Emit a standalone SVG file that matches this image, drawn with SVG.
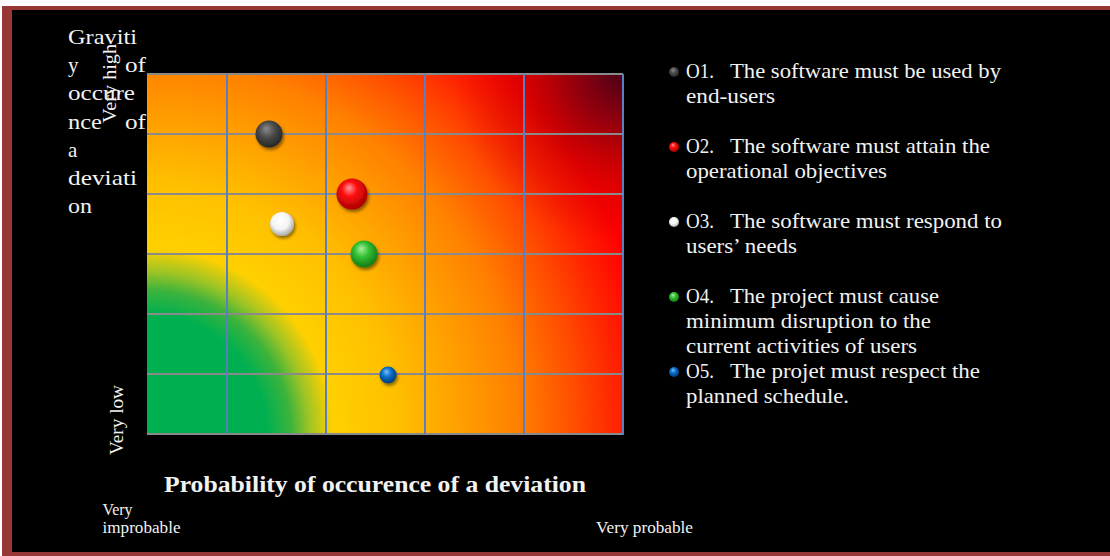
<svg xmlns="http://www.w3.org/2000/svg" width="1110" height="556" viewBox="0 0 1110 556">
  <style>
    .txt { font-family: "Liberation Serif", "DejaVu Serif", serif; fill: #f2f2f2; }
    .leg { font-size: 21.5px; }
    .axis { font-size: 21px; }
    .small { font-size: 17px; }
    .hgrid { stroke: #8a8a8a; stroke-width: 2; }
    .vgrid { stroke: #5a7fbf; stroke-width: 2; }
  </style>
  <defs>
    <!-- risk heat field, radiating from the low/low corner -->
    <radialGradient id="heat" gradientUnits="userSpaceOnUse" cx="147" cy="434" r="600">
      <stop offset="0" stop-color="#00b050"/>
      <stop offset="0.2" stop-color="#00b050"/>
      <stop offset="0.24" stop-color="#3cb33c"/>
      <stop offset="0.27" stop-color="#9cc425"/>
      <stop offset="0.31" stop-color="#ffd000"/>
      <stop offset="0.42" stop-color="#ffbf00"/>
      <stop offset="0.52" stop-color="#ffa000"/>
      <stop offset="0.62" stop-color="#ff8000"/>
      <stop offset="0.72" stop-color="#ff4a00"/>
      <stop offset="0.79" stop-color="#ff2000"/>
      <stop offset="0.85" stop-color="#ff0000"/>
      <stop offset="0.93" stop-color="#f00000"/>
      <stop offset="1" stop-color="#c00008"/>
    </radialGradient>
    <!-- darkening toward the high/high corner -->
    <radialGradient id="hot" gradientUnits="userSpaceOnUse" cx="623" cy="74" r="170">
      <stop offset="0" stop-color="#4a0018" stop-opacity="1"/>
      <stop offset="0.3" stop-color="#800010" stop-opacity="0.8"/>
      <stop offset="0.65" stop-color="#b00000" stop-opacity="0.35"/>
      <stop offset="1" stop-color="#c00000" stop-opacity="0"/>
    </radialGradient>
    <radialGradient id="ballGray" cx="0.45" cy="0.4" r="0.6" fx="0.4" fy="0.3">
      <stop offset="0" stop-color="#8a8a8a"/>
      <stop offset="0.5" stop-color="#4a4a4a"/>
      <stop offset="1" stop-color="#262626"/>
    </radialGradient>
    <radialGradient id="ballRed" cx="0.45" cy="0.4" r="0.6" fx="0.4" fy="0.3">
      <stop offset="0" stop-color="#ff9a9a"/>
      <stop offset="0.4" stop-color="#ff1010"/>
      <stop offset="1" stop-color="#a80000"/>
    </radialGradient>
    <radialGradient id="ballWhite" cx="0.45" cy="0.4" r="0.6" fx="0.4" fy="0.3">
      <stop offset="0" stop-color="#ffffff"/>
      <stop offset="0.6" stop-color="#f4f4f4"/>
      <stop offset="1" stop-color="#a8a8a8"/>
    </radialGradient>
    <radialGradient id="ballGreen" cx="0.45" cy="0.4" r="0.6" fx="0.4" fy="0.3">
      <stop offset="0" stop-color="#a8f0a0"/>
      <stop offset="0.45" stop-color="#33c033"/>
      <stop offset="1" stop-color="#137a13"/>
    </radialGradient>
    <radialGradient id="ballBlue" cx="0.45" cy="0.4" r="0.6" fx="0.4" fy="0.3">
      <stop offset="0" stop-color="#7cc0ff"/>
      <stop offset="0.45" stop-color="#0a6fc8"/>
      <stop offset="1" stop-color="#003b7a"/>
    </radialGradient>
    <filter id="shadow" x="-50%" y="-50%" width="200%" height="200%">
      <feDropShadow dx="1.5" dy="2.5" stdDeviation="1.8" flood-color="#000" flood-opacity="0.45"/>
    </filter>
  </defs>

  <!-- page frame -->
  <rect x="0" y="0" width="1110" height="556" fill="#ffffff"/>
  <rect x="2" y="6" width="1120" height="560" fill="#973836"/>
  <rect x="12" y="10" width="1110" height="542" fill="#000000"/>

  <!-- matrix -->
  <g id="matrix">
    <rect x="147" y="74" width="476" height="360" fill="url(#heat)"/>
    <rect x="147" y="74" width="476" height="360" fill="url(#hot)"/>
    <g class="hgrid">
      <line x1="147" y1="74" x2="623" y2="74"/>
      <line x1="147" y1="134" x2="623" y2="134"/>
      <line x1="147" y1="194" x2="623" y2="194"/>
      <line x1="147" y1="254" x2="623" y2="254"/>
      <line x1="147" y1="314" x2="623" y2="314"/>
      <line x1="147" y1="374" x2="623" y2="374"/>
      <line x1="147" y1="434" x2="623" y2="434"/>
    </g>
    <g class="vgrid">
      <line x1="227" y1="74" x2="227" y2="434"/>
      <line x1="326" y1="74" x2="326" y2="434"/>
      <line x1="425" y1="74" x2="425" y2="434"/>
      <line x1="524" y1="74" x2="524" y2="434"/>
      <line x1="623" y1="74" x2="623" y2="435"/>
    </g>
  </g>

  <!-- objectives placed on the matrix -->
  <g id="o1" filter="url(#shadow)"><circle cx="269" cy="134" r="13.5" fill="url(#ballGray)"/></g>
  <g id="o2" filter="url(#shadow)"><circle cx="352" cy="194" r="15.5" fill="url(#ballRed)"/></g>
  <g id="o3" filter="url(#shadow)"><circle cx="282" cy="224" r="12" fill="url(#ballWhite)"/></g>
  <g id="o4" filter="url(#shadow)"><circle cx="364" cy="254" r="13.5" fill="url(#ballGreen)"/></g>
  <g id="o5" filter="url(#shadow)"><circle cx="388" cy="375" r="8.5" fill="url(#ballBlue)"/></g>

  <!-- vertical axis -->
  <g id="y-axis" class="txt axis">
    <text x="68" y="44" textLength="69" lengthAdjust="spacingAndGlyphs">Graviti</text>
    <text x="68" y="72">y<tspan x="125" textLength="21" lengthAdjust="spacingAndGlyphs">of</tspan></text>
    <text x="68" y="100" textLength="67" lengthAdjust="spacingAndGlyphs">occure</text>
    <text x="68" y="129"><tspan textLength="34" lengthAdjust="spacingAndGlyphs">nce</tspan><tspan x="125" textLength="21" lengthAdjust="spacingAndGlyphs">of</tspan></text>
    <text x="68" y="157">a</text>
    <text x="68" y="185" textLength="69" lengthAdjust="spacingAndGlyphs">deviati</text>
    <text x="68" y="213" textLength="24" lengthAdjust="spacingAndGlyphs">on</text>
  </g>
  <text class="txt" font-size="18.5" transform="translate(116,123) rotate(-90)" textLength="79" lengthAdjust="spacingAndGlyphs">Very high</text>
  <text class="txt" font-size="18.5" transform="translate(123,455) rotate(-90)" textLength="70" lengthAdjust="spacingAndGlyphs">Very low</text>

  <!-- horizontal axis -->
  <g id="x-axis" class="txt">
    <text x="164" y="492" font-size="23.5" font-weight="bold" textLength="422" lengthAdjust="spacingAndGlyphs">Probability of occurence of a deviation</text>
    <text class="small" x="102.5" y="515" textLength="30" lengthAdjust="spacingAndGlyphs">Very</text>
    <text class="small" x="102.5" y="533" textLength="78" lengthAdjust="spacingAndGlyphs">improbable</text>
    <text class="small" x="596" y="533" textLength="97" lengthAdjust="spacingAndGlyphs">Very probable</text>
  </g>

  <!-- legend -->
  <g id="legend" class="txt leg">
    <g id="leg-o1">
      <circle cx="674" cy="72" r="5" fill="url(#ballGray)"/>
      <text x="686" y="78"><tspan textLength="28" lengthAdjust="spacingAndGlyphs">O1.</tspan><tspan x="730" textLength="271" lengthAdjust="spacingAndGlyphs">The software must be used by</tspan></text>
      <text x="686" y="103" textLength="89" lengthAdjust="spacingAndGlyphs">end-users</text>
    </g>
    <g id="leg-o2">
      <circle cx="674" cy="147" r="5" fill="url(#ballRed)"/>
      <text x="686" y="153"><tspan textLength="28" lengthAdjust="spacingAndGlyphs">O2.</tspan><tspan x="730" textLength="260" lengthAdjust="spacingAndGlyphs">The software must attain the</tspan></text>
      <text x="686" y="178" textLength="201" lengthAdjust="spacingAndGlyphs">operational objectives</text>
    </g>
    <g id="leg-o3">
      <circle cx="674" cy="222" r="5" fill="url(#ballWhite)"/>
      <text x="686" y="228"><tspan textLength="28" lengthAdjust="spacingAndGlyphs">O3.</tspan><tspan x="730" textLength="272" lengthAdjust="spacingAndGlyphs">The software must respond to</tspan></text>
      <text x="686" y="253" textLength="111" lengthAdjust="spacingAndGlyphs">users’ needs</text>
    </g>
    <g id="leg-o4">
      <circle cx="674" cy="297" r="5" fill="url(#ballGreen)"/>
      <text x="686" y="303"><tspan textLength="28" lengthAdjust="spacingAndGlyphs">O4.</tspan><tspan x="730" textLength="209" lengthAdjust="spacingAndGlyphs">The project must cause</tspan></text>
      <text x="686" y="328" textLength="245" lengthAdjust="spacingAndGlyphs">minimum disruption to the</text>
      <text x="686" y="353" textLength="231" lengthAdjust="spacingAndGlyphs">current activities of users</text>
    </g>
    <g id="leg-o5">
      <circle cx="674" cy="372" r="5" fill="url(#ballBlue)"/>
      <text x="686" y="378"><tspan textLength="28" lengthAdjust="spacingAndGlyphs">O5.</tspan><tspan x="730" textLength="250" lengthAdjust="spacingAndGlyphs">The projet must respect the</tspan></text>
      <text x="686" y="403" textLength="163" lengthAdjust="spacingAndGlyphs">planned schedule.</text>
    </g>
  </g>
</svg>
